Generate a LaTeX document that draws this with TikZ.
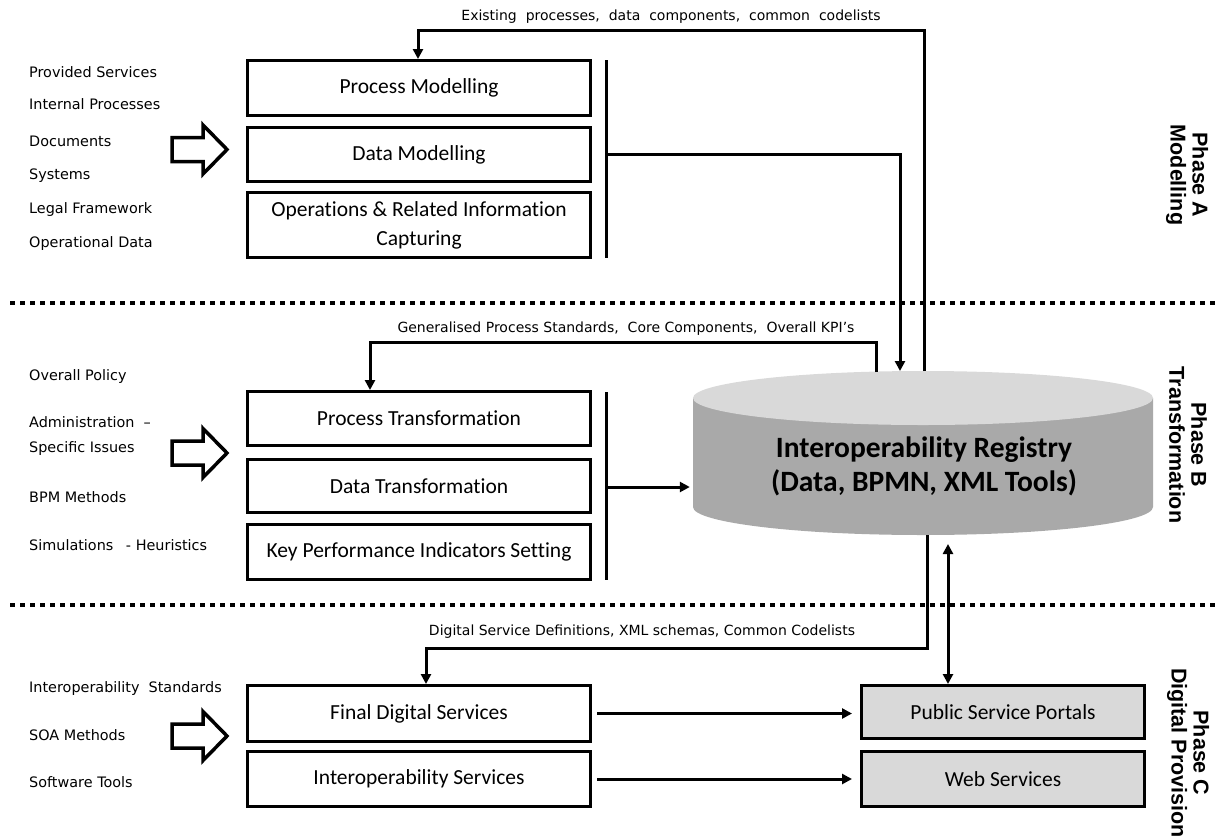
\documentclass[tikz,border=0pt]{standalone}
\usepackage{fontspec}
\setmainfont{DejaVu Sans}
\newfontfamily\carl[Ligatures=NoCommon]{Carlito}
\newfontfamily\arialb{Liberation Sans}
\usetikzlibrary{arrows.meta,calc}
\definecolor{boxgray}{HTML}{D9D9D9}
\definecolor{cyltop}{HTML}{D9D9D9}
\definecolor{cylbody}{HTML}{A9A9A9}
\begin{document}
\begin{tikzpicture}[x=1pt,y=-1pt,
  conn/.style={line width=3pt},
  arr/.style={conn,-{Triangle[length=10pt,width=10pt]}},
  box/.style={draw,line width=3pt,minimum width=343pt,inner sep=0pt,align=center,font=\carl\fontsize{21.5}{29}\selectfont},
  gbox/.style={box,fill=boxgray,minimum width=283pt},
  lbl/.style={anchor=base west,inner sep=0pt,font=\fontsize{14.4}{17}\selectfont},
  flow/.style={anchor=base,inner sep=0pt,font=\fontsize{14}{17}\selectfont},
  phase/.style={rotate=-90,align=center,inner sep=0pt,font=\arialb\bfseries\fontsize{21.5}{22}\selectfont},
  dots/.style={line width=4pt,dash pattern=on 5pt off 5pt},
  hollow/.style={line width=3.5pt,line join=miter}]
\useasboundingbox (0,0) rectangle (1218,836);

% separators
\draw[dots] (10,303) -- (1218,303);
\draw[dots] (10,605) -- (1218,605);

% registry cylinder
\fill[cylbody] (693,398) -- (693,507) arc[start angle=180,end angle=360,x radius=230pt,y radius=28pt] -- (1153,398) -- cycle;
\fill[cyltop] (923,398) ellipse[x radius=230pt,y radius=27pt];
\node[minimum width=460pt,minimum height=164pt,inner sep=0pt] (reg) at (923,453) {};
\node[align=center,inner sep=0pt,font=\carl\bfseries\fontsize{29.5}{34}\selectfont] (regtext) at (924,466) {Interoperability Registry\\(Data, BPMN, XML Tools)};

% Phase A boxes
\node[box,minimum height=55pt] (pm) at (419,88) {Process Modelling};
\node[box,minimum height=54pt] (dm) at (419,154.5) {Data Modelling};
\node[box,minimum height=65pt] (oc) at (419,225) {Operations \& Related Information\\Capturing};
% Phase B boxes
\node[box,minimum height=54pt] (pt) at (419,418.5) {Process Transformation};
\node[box,minimum height=53pt] (dt) at (419,486) {Data Transformation};
\node[box,minimum height=55pt] (kpi) at (419,552) {Key Performance Indicators Setting};
% Phase C boxes
\node[box,minimum height=56pt] (fds) at (419,713.5) {Final Digital Services};
\node[box,minimum height=55pt] (is) at (419,779) {Interoperability Services};
\node[gbox,minimum height=53pt] (psp) at (1003,712) {Public Service Portals};
\node[gbox,minimum height=55pt] (ws) at (1003,779) {Web Services};

% left input lists
\node[lbl] (a1) at (29,77) {Provided Services};
\node[lbl] (a2) at (29,109) {Internal Processes};
\node[lbl] (a3) at (29,146) {Documents};
\node[lbl] (a4) at (29,179) {Systems};
\node[lbl] (a5) at (29,213) {Legal Framework};
\node[lbl] (a6) at (29,247) {Operational Data};
\node[lbl] (b1) at (29,380) {Overall Policy};
\node[lbl] (b2) at (29,427) {Administration \ –};
\node[lbl] (b3) at (29,452) {Specific Issues};
\node[lbl] (b4) at (29,502) {BPM Methods};
\node[lbl] (b5) at (29,550) {Simulations\hspace{8pt} - Heuristics};
\node[lbl] (c1) at (29,692) {Interoperability\ \ Standards};
\node[lbl] (c2) at (29,740) {SOA Methods};
\node[lbl] (c3) at (29,787) {Software Tools};

% hollow input arrows
\foreach \c in {149.5,453,736}{
  \draw[hollow] (172,\c-12) -- (203,\c-12) -- (203,\c-24.5) -- (227,\c) -- (203,\c+24.5) -- (203,\c+12) -- (172,\c+12) -- cycle;
}

% brackets
\coordinate (brAt) at (606,60);
\coordinate (brAb) at (606,258);
\draw[conn] (brAt) -- (brAb);
\coordinate (brBt) at (606,392);
\coordinate (brBb) at (606,580);
\draw[conn] (brBt) -- (brBb);

% Phase A flows
\coordinate (cA) at (924,371);
\coordinate (tA) at (418,30);
\draw[arr] (cA) |- (tA) -- (tA |- pm.north);
\node[flow] (lA) at (671,20) {Existing\ \ processes,\ \ data\ \ components,\ \ common\ \ codelists};
\coordinate (rA) at (900,371);
\draw[arr] (brAt |- dm.center) -| (rA);

% Phase B flows
\coordinate (cB) at (876,372);
\coordinate (tB) at (370,342);
\draw[arr] (cB) |- (tB) -- (tB |- pt.north);
\node[flow] (lB) at (626,332) {Generalised Process Standards,\ \ Core Components,\ \ Overall KPI’s};
\draw[arr,shorten >=3pt] (brBt |- 0,487) -- (reg.west |- 0,487);

% Phase C flows
\coordinate (cC) at (927,535);
\coordinate (tC) at (426,648);
\draw[arr] (cC) |- (tC) -- (tC |- fds.north);
\node[flow] (lC) at (642,635) {Digital Service Definitions,\ XML schemas,\ Common Codelists};
\coordinate (cD) at (948,544);
\draw[conn,{Triangle[length=10pt,width=10pt]}-{Triangle[length=10pt,width=10pt]}] (cD) -- (cD |- psp.north);
\draw[arr,shorten <=5pt,shorten >=8pt] (fds.east) -- (fds.east -| psp.west);
\draw[arr,shorten <=5pt,shorten >=8pt] (is.east) -- (is.east -| ws.west);

% phase labels
\node[phase] (phA) at (1187,175) {Phase A\\Modelling};
\node[phase] (phB) at (1188,445) {Phase B\\Transformation};
\node[phase] (phC) at (1188,753) {Phase C\\Digital Provision};
\end{tikzpicture}
\end{document}
